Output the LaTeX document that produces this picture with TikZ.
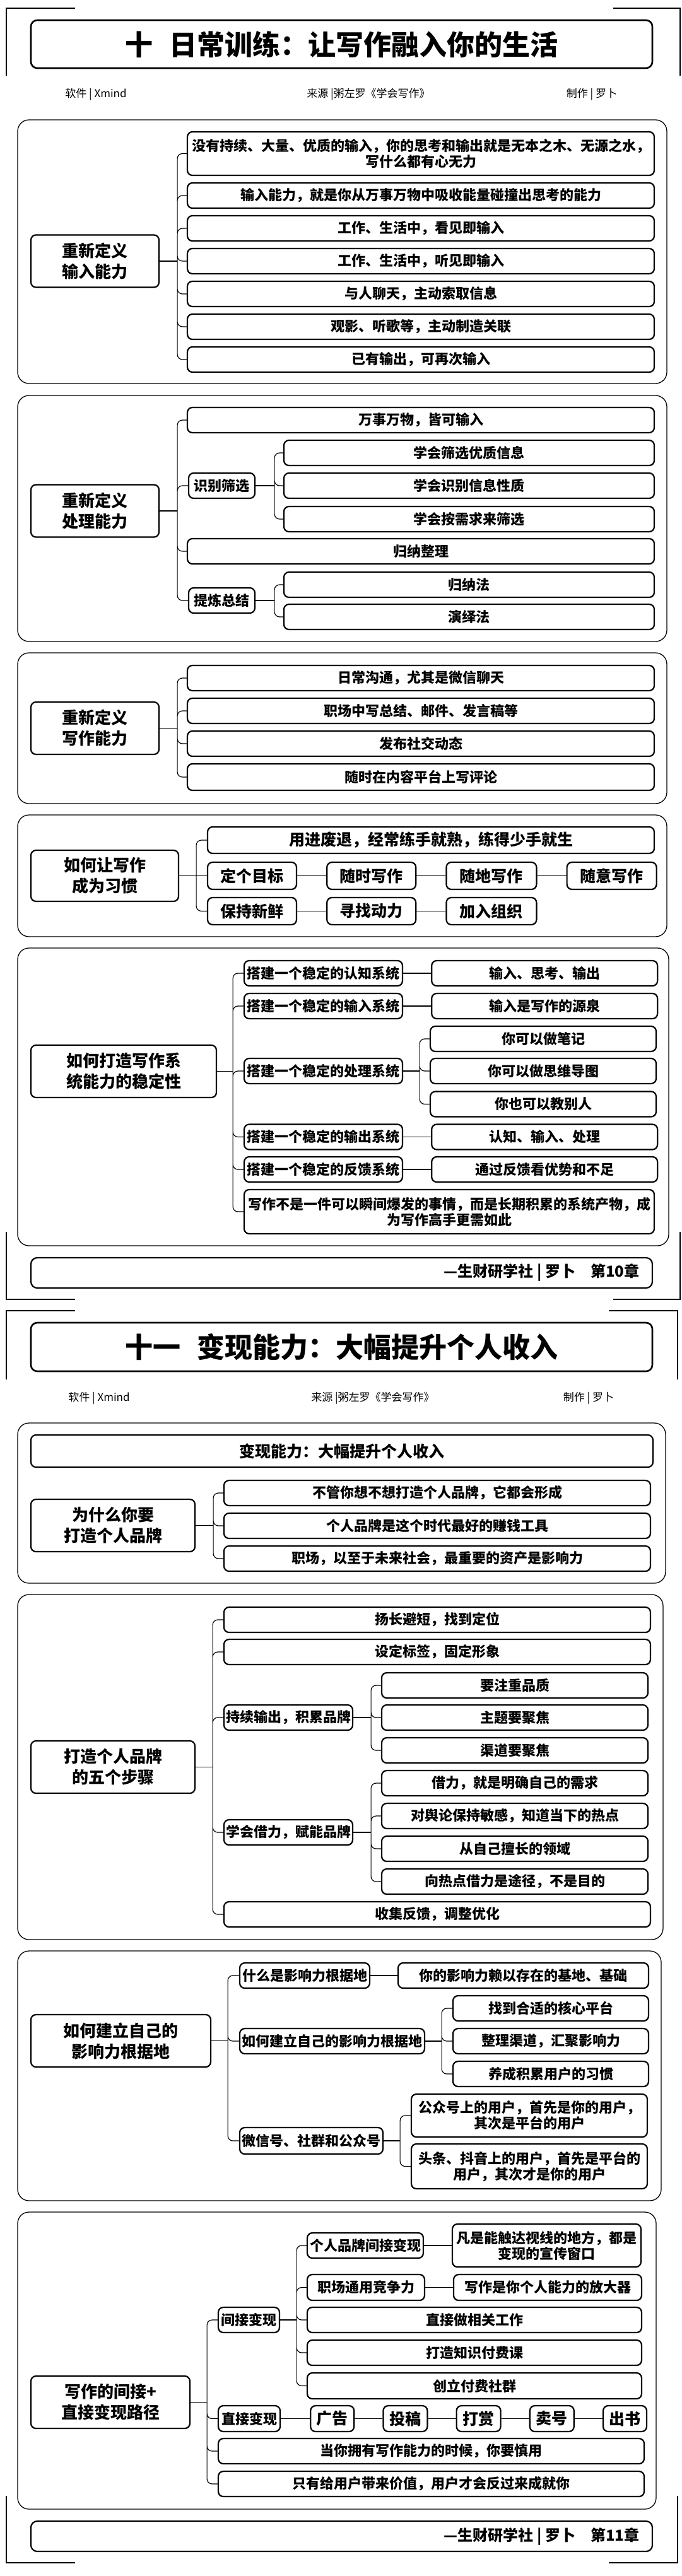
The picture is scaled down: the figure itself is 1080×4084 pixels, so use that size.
\documentclass[tikz,border=0pt]{standalone}
\usepackage{fontspec}
\setmainfont{Noto Sans CJK SC}
\usetikzlibrary{positioning}
\tikzset{
  topic/.style={draw, line width=2.2pt, rounded corners=8pt, inner sep=2pt, minimum height=40pt, align=center, font=\bfseries\fontsize{22}{25}\selectfont},
  big topic/.style={topic, font=\bfseries\fontsize{25}{28}\selectfont},
  root/.style={topic, minimum height=83pt, font=\bfseries\fontsize{26}{33}\selectfont},
  title box/.style={draw, line width=2.6pt, rounded corners=10pt, minimum width=985pt, font=\bfseries\fontsize{44}{48}\selectfont},
  foot box/.style={draw, line width=2.2pt, rounded corners=10pt, minimum width=985pt, minimum height=48pt},
  foot text/.style={anchor=east, font=\bfseries\fontsize{24}{26}\selectfont},
  info/.style={font=\fontsize{17}{20}\selectfont},
  conn/.style={line width=1.2pt, rounded corners=8pt},
  sec/.style={line width=1.3pt, rounded corners=18pt},
  bracket line/.style={line width=1.5pt},
}
\begin{document}
\begin{tikzpicture}[x=1pt,y=-1pt]
  \useasboundingbox (0,0) rectangle (1080,4084);

  % ---------- chapter 10 ----------
  \draw[bracket line] (10,120) -- (10,13) -- (119,13) (972,13) -- (1078,13) -- (1078,120);
  \draw[bracket line] (10,1953) -- (10,2060) -- (119,2060) (972,2060) -- (1078,2060) -- (1078,1953);
  \node[title box, minimum height=76pt] (t1) at (541.5,70) {十\hspace{0.6em}日常训练：让写作融入你的生活};
  \node[info] (src1) at (584,150) {来源 |粥左罗《学会写作》};
  \node[info] (sw1) at (152,150) {软件 | Xmind};
  \node[info] (by1) at (938,150) {制作 | 罗卜};

  % input
  \draw[sec] (28,190) rectangle (1057,608);
  \node[root, minimum width=203pt] (r1) at (150.5,414) {重新定义\\输入能力};
  \node[topic, minimum width=740pt, minimum height=69pt] (i1) at (667,243.5) {没有持续、大量、优质的输入，你的思考和输出就是无本之木、无源之水，\\写什么都有心无力};
  \node[topic, minimum width=740pt] (i2) at (667,310) {输入能力，就是你从万事万物中吸收能量碰撞出思考的能力};
  \node[topic, minimum width=740pt] (i3) at (667,362) {工作、生活中，看见即输入};
  \node[topic, minimum width=740pt] (i4) at (667,414) {工作、生活中，听见即输入};
  \node[topic, minimum width=740pt] (i5) at (667,466) {与人聊天，主动索取信息};
  \node[topic, minimum width=740pt] (i6) at (667,518) {观影、听歌等，主动制造关联};
  \node[topic, minimum width=740pt] (i7) at (667,570) {已有输出，可再次输入};
  \coordinate (b1) at ([xshift=28pt]r1.east);
  \draw[conn] (r1.east) -- (b1);
  \draw[conn] (b1) |- (i1.west) (b1) |- (i2.west) (b1) |- (i3.west) (b1) |- (i4.west)
    (b1) |- (i5.west) (b1) |- (i6.west) (b1) |- (i7.west);

  % process
  \draw[sec] (28,627) rectangle (1057,1017);
  \node[root, minimum width=203pt] (r2) at (150.5,810) {重新定义\\处理能力};
  \node[topic, minimum width=740pt] (p1) at (667,666) {万事万物，皆可输入};
  \node[topic, minimum width=105pt] (p2) at (351.5,770) {识别筛选};
  \node[topic, minimum width=587pt] (p21) at (743.5,718) {学会筛选优质信息};
  \node[topic, minimum width=587pt] (p22) at (743.5,770) {学会识别信息性质};
  \node[topic, minimum width=587pt] (p23) at (743.5,823) {学会按需求来筛选};
  \node[topic, minimum width=740pt] (p3) at (667,874) {归纳整理};
  \node[topic, minimum width=105pt] (p4) at (351.5,952) {提炼总结};
  \node[topic, minimum width=587pt] (p41) at (743.5,927) {归纳法};
  \node[topic, minimum width=587pt] (p42) at (743.5,978) {演绎法};
  \coordinate (b2) at ([xshift=28pt]r2.east);
  \draw[conn] (r2.east) -- (b2);
  \draw[conn] (b2) |- (p1.west) (b2) |- (p2.west) (b2) |- (p3.west) (b2) |- (p4.west);
  \coordinate (b21) at ([xshift=30pt]p2.east);
  \draw[conn] (p2.east) -- (b21);
  \draw[conn] (b21) |- (p21.west) (b21) |- (p22.west) (b21) |- (p23.west);
  \coordinate (b24) at ([xshift=30pt]p4.east);
  \draw[conn] (p4.east) -- (b24);
  \draw[conn] (b24) |- (p41.west) (b24) |- (p42.west);

  % writing
  \draw[sec] (28,1035) rectangle (1057,1274);
  \node[root, minimum width=203pt] (r3) at (150.5,1154.5) {重新定义\\写作能力};
  \node[topic, minimum width=740pt] (w1) at (667,1075) {日常沟通，尤其是微信聊天};
  \node[topic, minimum width=740pt] (w2) at (667,1127) {职场中写总结、邮件、发言稿等};
  \node[topic, minimum width=740pt] (w3) at (667,1179) {发布社交动态};
  \node[topic, minimum width=740pt, minimum height=42pt] (w4) at (667,1232) {随时在内容平台上写评论};
  \coordinate (b3) at ([xshift=28pt]r3.east);
  \draw[conn] (r3.east) -- (b3);
  \draw[conn] (b3) |- (w1.west) (b3) |- (w2.west) (b3) |- (w3.west) (b3) |- (w4.west);

  % habit
  \draw[sec] (28,1292) rectangle (1057,1485);
  \node[root, minimum width=234pt, minimum height=81pt] (r4) at (166,1388.5) {如何让写作\\成为习惯};
  \node[big topic, minimum width=708pt, minimum height=42pt] (h1) at (683,1332) {用进废退，经常练手就熟，练得少手就生};
  \node[big topic, minimum width=141pt, minimum height=43pt] (h2) at (399.5,1388.5) {定个目标};
  \node[big topic, minimum width=141pt, minimum height=43pt, right=46pt of h2] (h3) {随时写作};
  \node[big topic, minimum width=143pt, minimum height=43pt, right=46pt of h3] (h4) {随地写作};
  \node[big topic, minimum width=142pt, minimum height=43pt, right=46pt of h4] (h5) {随意写作};
  \node[big topic, minimum width=141pt, minimum height=43pt] (h6) at (399.5,1444.5) {保持新鲜};
  \node[big topic, minimum width=141pt, minimum height=43pt, right=46pt of h6] (h7) {寻找动力};
  \node[big topic, minimum width=143pt, minimum height=43pt, right=46pt of h7] (h8) {加入组织};
  \coordinate (b4) at ([xshift=27pt]r4.east);
  \draw[conn] (r4.east) -- (h2.west);
  \draw[conn] (b4) |- (h1.west) (b4) |- (h6.west);
  \draw[conn] (h2) -- (h3) (h3) -- (h4) (h4) -- (h5) (h6) -- (h7) (h7) -- (h8);

  % system
  \draw[sec] (28,1503) rectangle (1060,1975);
  \node[root, minimum width=294pt] (r5) at (196,1698.5) {如何打造写作系\\统能力的稳定性};
  \node[topic, minimum width=251pt] (s1) at (512.5,1543) {搭建一个稳定的认知系统};
  \node[topic, minimum width=358pt, right=44pt of s1] (s1a) {输入、思考、输出};
  \node[topic, minimum width=251pt] (s2) at (512.5,1595) {搭建一个稳定的输入系统};
  \node[topic, minimum width=358pt, right=44pt of s2] (s2a) {输入是写作的源泉};
  \node[topic, minimum width=251pt] (s3) at (512.5,1698) {搭建一个稳定的处理系统};
  \node[topic, minimum width=358pt] (s3a) at (861,1647) {你可以做笔记};
  \node[topic, minimum width=358pt] (s3b) at (861,1698) {你可以做思维导图};
  \node[topic, minimum width=358pt] (s3c) at (861,1750.5) {你也可以教别人};
  \node[topic, minimum width=251pt] (s4) at (512.5,1802.5) {搭建一个稳定的输出系统};
  \node[topic, minimum width=358pt, right=44pt of s4] (s4a) {认知、输入、处理};
  \node[topic, minimum width=251pt] (s5) at (512.5,1854) {搭建一个稳定的反馈系统};
  \node[topic, minimum width=358pt, right=44pt of s5] (s5a) {通过反馈看优势和不足};
  \node[topic, minimum width=650pt, minimum height=70pt] (s6) at (712,1921) {写作不是一件可以瞬间爆发的事情，而是长期积累的系统产物，成\\为写作高手更需如此};
  \coordinate (b5) at ([xshift=25pt]r5.east);
  \draw[conn] (r5.east) -- (b5);
  \draw[conn] (b5) |- (s1.west) (b5) |- (s2.west) (b5) |- (s3.west) (b5) |- (s4.west)
    (b5) |- (s5.west) (b5) |- (s6.west);
  \draw[conn] (s1) -- (s1a) (s2) -- (s2a) (s4) -- (s4a) (s5) -- (s5a);
  \coordinate (b53) at ([xshift=26pt]s3.east);
  \draw[conn] (s3.east) -- (b53);
  \draw[conn] (b53) |- (s3a.west) (b53) |- (s3b.west) (b53) |- (s3c.west);

  \node[foot box] (f1) at (541.5,2018) {};
  \node[foot text] (ft1) at ([xshift=-18pt]f1.east) {—生财研学社 | 罗卜\hspace{1em}第10章};

  % ---------- chapter 11 ----------
  \draw[bracket line] (10,2187) -- (10,2078) -- (119,2078) (965,2078) -- (1074,2078) -- (1074,2187);
  \draw[bracket line] (10,3957) -- (10,4063) -- (119,4063) (965,4063) -- (1074,4063) -- (1074,3957);
  \node[title box, minimum height=77pt] (t2) at (541.5,2135.5) {十一\hspace{0.6em}变现能力：大幅提升个人收入};
  \node[info] (sw2) at (157,2217) {软件 | Xmind};
  \node[info] (src2) at (591,2217) {来源 |粥左罗《学会写作》};
  \node[info] (by2) at (933,2217) {制作 | 罗卜};

  % why brand
  \draw[sec] (28,2256) rectangle (1055,2510);
  \node[big topic, minimum width=986pt, minimum height=51pt] (m0) at (542,2300.5) {变现能力：大幅提升个人收入};
  \node[root, minimum width=260pt] (r6) at (179,2418.5) {为什么你要\\打造个人品牌};
  \node[topic, minimum width=676pt] (m1) at (693,2367) {不管你想不想打造个人品牌，它都会形成};
  \node[topic, minimum width=676pt] (m2) at (693,2419) {个人品牌是这个时代最好的赚钱工具};
  \node[topic, minimum width=676pt] (m3) at (693,2471) {职场，以至于未来社会，最重要的资产是影响力};
  \coordinate (b6) at ([xshift=28pt]r6.east);
  \draw[conn] (r6.east) -- (b6);
  \draw[conn] (b6) |- (m1.west) (b6) |- (m2.west) (b6) |- (m3.west);

  % five steps
  \draw[sec] (28,2528) rectangle (1051,3075);
  \node[root, minimum width=260pt] (r7) at (179,2801.5) {打造个人品牌\\的五个步骤};
  \node[topic, minimum width=676pt] (n1) at (693,2568) {扬长避短，找到定位};
  \node[topic, minimum width=676pt] (n2) at (693,2619) {设定标签，固定形象};
  \node[topic, minimum width=204pt] (n3) at (457,2723) {持续输出，积累品牌};
  \node[topic, minimum width=422pt] (n31) at (816,2672) {要注重品质};
  \node[topic, minimum width=422pt] (n32) at (816,2723) {主题要聚焦};
  \node[topic, minimum width=422pt] (n33) at (816,2775) {渠道要聚焦};
  \node[topic, minimum width=204pt] (n4) at (457,2905) {学会借力，赋能品牌};
  \node[topic, minimum width=422pt] (n41) at (816,2827) {借力，就是明确自己的需求};
  \node[topic, minimum width=422pt] (n42) at (816,2879) {对舆论保持敏感，知道当下的热点};
  \node[topic, minimum width=422pt] (n43) at (816,2931) {从自己擅长的领域};
  \node[topic, minimum width=422pt] (n44) at (816,2983) {向热点借力是途径，不是目的};
  \node[topic, minimum width=676pt] (n5) at (693,3035) {收集反馈，调整优化};
  \coordinate (b7) at ([xshift=27pt]r7.east);
  \draw[conn] (r7.east) -- (b7);
  \draw[conn] (b7) |- (n1.west) (b7) |- (n2.west) (b7) |- (n3.west) (b7) |- (n4.west) (b7) |- (n5.west);
  \coordinate (b73) at ([xshift=28pt]n3.east);
  \draw[conn] (n3.east) -- (b73);
  \draw[conn] (b73) |- (n31.west) (b73) |- (n32.west) (b73) |- (n33.west);
  \coordinate (b74) at ([xshift=28pt]n4.east);
  \draw[conn] (n4.east) -- (b74);
  \draw[conn] (b74) |- (n41.west) (b74) |- (n42.west) (b74) |- (n43.west) (b74) |- (n44.west);

  % base of influence
  \draw[sec] (28,3093) rectangle (1048,3489);
  \node[root, minimum width=285pt] (r8) at (191.5,3235.5) {如何建立自己的\\影响力根据地};
  \node[topic, minimum width=206pt] (g1) at (483,3132) {什么是影响力根据地};
  \node[topic, minimum width=397pt] (g1a) at (829.5,3132) {你的影响力赖以存在的基地、基础};
  \node[topic, minimum width=293pt] (g2) at (526.5,3236) {如何建立自己的影响力根据地};
  \node[topic, minimum width=310pt] (g21) at (873,3184) {找到合适的核心平台};
  \node[topic, minimum width=310pt] (g22) at (873,3236) {整理渠道，汇聚影响力};
  \node[topic, minimum width=310pt] (g23) at (873,3288) {养成积累用户的习惯};
  \node[topic, minimum width=227pt, minimum height=42pt] (g3) at (493.5,3394) {微信号、社群和公众号};
  \node[topic, minimum width=374pt, minimum height=68pt] (g31) at (839,3354) {公众号上的用户，首先是你的用户，\\其次是平台的用户};
  \node[topic, minimum width=374pt, minimum height=71pt] (g32) at (839,3434.5) {头条、抖音上的用户，首先是平台的\\用户，其次才是你的用户};
  \coordinate (b8) at ([xshift=26pt]r8.east);
  \draw[conn] (r8.east) -- (b8);
  \draw[conn] (b8) |- (g1.west) (b8) |- (g2.west) (b8) |- (g3.west);
  \draw[conn] (g1) -- (g1a);
  \coordinate (b82) at ([xshift=26pt]g2.east);
  \draw[conn] (g2.east) -- (b82);
  \draw[conn] (b82) |- (g21.west) (b82) |- (g22.west) (b82) |- (g23.west);
  \coordinate (b83) at ([xshift=26pt]g3.east);
  \draw[conn] (g3.east) -- (b83);
  \draw[conn] (b83) |- (g31.west) (b83) |- (g32.west);

  % monetize
  \draw[sec] (28,3507) rectangle (1040,3978);
  \node[root, minimum width=252pt] (r9) at (175,3808.5) {写作的间接+\\直接变现路径};
  \node[topic, minimum width=97pt] (k1) at (394.5,3678) {间接变现};
  \node[topic, minimum width=184pt] (k11) at (579,3560) {个人品牌间接变现};
  \node[topic, minimum width=299pt, minimum height=68pt] (k11a) at (866.5,3560) {凡是能触达视线的地方，都是\\变现的宣传窗口};
  \node[topic, minimum width=186pt, minimum height=41pt] (k12) at (580,3626.5) {职场通用竞争力};
  \node[topic, minimum width=298pt, minimum height=41pt] (k12a) at (868,3626.5) {写作是你个人能力的放大器};
  \node[topic, minimum width=530pt] (k13) at (752,3678) {直接做相关工作};
  \node[topic, minimum width=530pt] (k14) at (752,3730) {打造知识付费课};
  \node[topic, minimum width=530pt, minimum height=41pt] (k15) at (752,3782.5) {创立付费社群};
  \node[topic, minimum width=98pt, minimum height=41pt] (k2) at (395,3834.5) {直接变现};
  \node[big topic, minimum width=69pt, minimum height=41pt, right=46pt of k2] (k21) {广告};
  \node[big topic, minimum width=70pt, minimum height=41pt, right=44pt of k21] (k22) {投稿};
  \node[big topic, minimum width=70pt, minimum height=41pt, right=44pt of k22] (k23) {打赏};
  \node[big topic, minimum width=70pt, minimum height=41pt, right=44pt of k23] (k24) {卖号};
  \node[big topic, minimum width=69pt, minimum height=41pt, right=44pt of k24] (k25) {出书};
  \node[topic, minimum width=675pt] (k3) at (683.5,3886) {当你拥有写作能力的时候，你要慎用};
  \node[topic, minimum width=675pt] (k4) at (683.5,3938) {只有给用户带来价值，用户才会反过来成就你};
  \coordinate (b9) at ([xshift=26pt]r9.east);
  \draw[conn] (r9.east) -- (b9);
  \draw[conn] (b9) |- (k1.west) (b9) |- (k2.west) (b9) |- (k3.west) (b9) |- (k4.west);
  \coordinate (b91) at ([xshift=26pt]k1.east);
  \draw[conn] (k1.east) -- (b91);
  \draw[conn] (b91) |- (k11.west) (b91) |- (k12.west) (b91) |- (k13.west) (b91) |- (k14.west) (b91) |- (k15.west);
  \draw[conn] (k11) -- (k11a) (k12) -- (k12a);
  \draw[conn] (k2) -- (k21) (k21) -- (k22) (k22) -- (k23) (k23) -- (k24) (k24) -- (k25);

  \node[foot box] (f2) at (541.5,4021) {};
  \node[foot text] (ft2) at ([xshift=-18pt]f2.east) {—生财研学社 | 罗卜\hspace{1em}第11章};
\end{tikzpicture}
\end{document}
